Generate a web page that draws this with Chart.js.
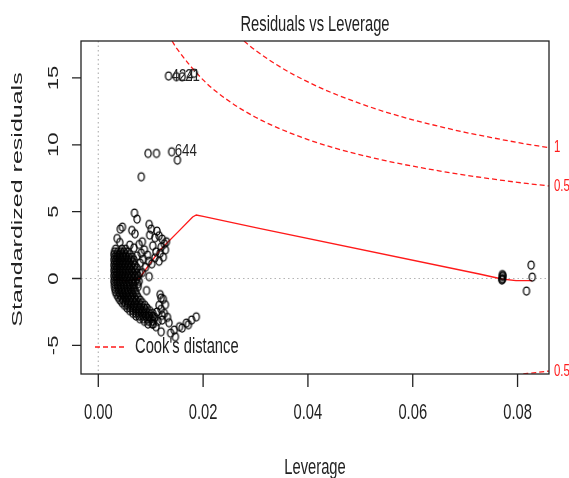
<!DOCTYPE html>
<html>
<head>
<meta charset="utf-8">
<script src="https://cdn.jsdelivr.net/npm/chart.js@4.4.1/dist/chart.umd.min.js"></script>
<style>
  body { margin: 0; background: #fff; }
  #wrap { width: 569px; height: 478px; }
</style>
</head>
<body>
<div id="wrap"><canvas id="levChart" width="569" height="478"></canvas></div>
<script>
// --- Data: leverage vs standardized residuals ---
// dense group near low leverage, one row per residual level: [residual, [leverages]]
const blobRows = [
    [2.2, [0.0033, 0.0045, 0.0052]],
    [2.0, [0.0031, 0.0037, 0.0043, 0.0049, 0.0056]],
    [1.8, [0.0030, 0.0035, 0.0040, 0.0046, 0.0052, 0.0060]],
    [1.6, [0.0031, 0.0036, 0.0042, 0.0047, 0.0053, 0.0058, 0.0065]],
    [1.4, [0.0030, 0.0034, 0.0039, 0.0044, 0.0050, 0.0056, 0.0062, 0.0068]],
    [1.2, [0.0031, 0.0036, 0.0041, 0.0047, 0.0053, 0.0059, 0.0066]],
    [1.0, [0.0030, 0.0034, 0.0039, 0.0045, 0.0051, 0.0057, 0.0063, 0.0070]],
    [0.8, [0.0031, 0.0036, 0.0042, 0.0048, 0.0054, 0.0060, 0.0067, 0.0074]],
    [0.6, [0.0030, 0.0034, 0.0040, 0.0046, 0.0052, 0.0058, 0.0064, 0.0071]],
    [0.4, [0.0031, 0.0036, 0.0041, 0.0047, 0.0053, 0.0059, 0.0066, 0.0073, 0.0079]],
    [0.2, [0.0030, 0.0034, 0.0039, 0.0045, 0.0051, 0.0057, 0.0063, 0.0070, 0.0076]],
    [0.0, [0.0031, 0.0036, 0.0042, 0.0048, 0.0054, 0.0060, 0.0067, 0.0074]],
    [-0.2, [0.0030, 0.0035, 0.0040, 0.0046, 0.0052, 0.0058, 0.0064, 0.0071, 0.0078]],
    [-0.4, [0.0031, 0.0036, 0.0042, 0.0048, 0.0054, 0.0060, 0.0067, 0.0075]],
    [-0.6, [0.0031, 0.0037, 0.0043, 0.0049, 0.0055, 0.0061, 0.0068, 0.0076]],
    [-0.8, [0.0032, 0.0038, 0.0044, 0.0050, 0.0056, 0.0062, 0.0069]],
    [-1.0, [0.0033, 0.0039, 0.0045, 0.0051, 0.0057, 0.0064, 0.0071]],
    [-1.2, [0.0035, 0.0041, 0.0047, 0.0053, 0.0059, 0.0066, 0.0073]],
    [-1.4, [0.0038, 0.0044, 0.0050, 0.0056, 0.0062, 0.0069, 0.0076]],
    [-1.6, [0.0041, 0.0047, 0.0053, 0.0059, 0.0065, 0.0072, 0.0080]],
    [-1.8, [0.0045, 0.0051, 0.0057, 0.0063, 0.0070, 0.0077, 0.0084]],
    [-2.0, [0.0050, 0.0056, 0.0062, 0.0068, 0.0075, 0.0082, 0.0089]],
    [-2.2, [0.0055, 0.0061, 0.0067, 0.0073, 0.0080, 0.0087, 0.0093]],
    [-2.4, [0.0060, 0.0066, 0.0072, 0.0078, 0.0085, 0.0091, 0.0098]],
    [-2.6, [0.0066, 0.0072, 0.0078, 0.0084, 0.0090, 0.0097, 0.0104]],
    [-2.8, [0.0072, 0.0078, 0.0085, 0.0091, 0.0097, 0.0104]],
    [-3.0, [0.0079, 0.0086, 0.0093, 0.0100, 0.0107]],
    [-3.2, [0.0088, 0.0096, 0.0104]],
    [-3.4, [0.0095, 0.0103]]
];

// scattered points around the dense group: [leverage, residual]
const upperPts = [
    [0.0069, 4.9], [0.0074, 4.45], [0.0042, 3.7], [0.0046, 3.85], [0.0064, 3.6], [0.0070, 3.35],
    [0.0097, 4.05], [0.0101, 3.7], [0.0112, 3.55], [0.0098, 3.25], [0.0108, 3.05], [0.0036, 3.0],
    [0.0041, 2.7], [0.0084, 2.75], [0.0116, 3.2], [0.0122, 2.95], [0.0126, 2.6], [0.0120, 2.35],
    [0.0128, 2.15], [0.0118, 1.9], [0.0124, 1.6], [0.0116, 1.3], [0.0060, 2.5], [0.0068, 2.3],
    [0.0078, 2.55], [0.0088, 2.15], [0.0094, 1.75], [0.0086, 1.45], [0.0080, 1.15], [0.0090, 0.85],
    [0.0097, 0.15], [0.0084, 0.45], [0.0102, 1.1], [0.0108, 1.55], [0.0110, 2.0], [0.0104, 2.45],
    [0.0130, 2.75], [0.0096, 1.3], [0.0082, 1.9], [0.0074, 1.7], [0.0092, -0.9]
];
const lowerPts = [
    [0.0118, -1.2], [0.0124, -1.55], [0.0128, -1.95], [0.0120, -2.3], [0.0126, -2.6], [0.0132, -2.9],
    [0.0122, -3.1], [0.0135, -3.3], [0.0116, -2.0], [0.0120, -1.45], [0.0122, -2.75], [0.0114, -3.2],
    [0.0108, -2.9], [0.0112, -2.5], [0.0105, -3.4], [0.0110, -3.6], [0.0120, -3.98], [0.0138, -4.08],
    [0.0147, -4.35], [0.0155, -3.6], [0.0168, -3.33], [0.0178, -3.1], [0.0187, -2.86], [0.0145, -3.85],
    [0.0160, -3.7], [0.0172, -3.45]
];
const outlierPts = [
    [0.0082, 7.61], [0.0095, 9.36], [0.0111, 9.36], [0.0140, 9.48], [0.0151, 8.86],
    [0.0134, 15.15], [0.0149, 15.1], [0.0160, 15.1], [0.0183, 15.35]
];
const highLevPts = [
    [0.0771, 0.30], [0.0771, 0.15], [0.0771, 0.0], [0.0770, -0.1], [0.0772, 0.22], [0.0771, -0.05],
    [0.0826, 1.01], [0.0828, 0.11], [0.0817, -0.93]
];
// labelled observations: [leverage, residual, id]
const idPoints = [[0.0134, 15.15, '424'], [0.0160, 15.1, '21']];
const idPoints2 = [[0.0140, 9.48, '644']];

// smoother through the residuals
const smoothLine = [
    [0.0032, -0.06], [0.0053, -0.19], [0.0078, 0.0], [0.0117, 2.1], [0.0155, 3.6], [0.0180, 4.6],
    [0.0187, 4.75], [0.0200, 4.65], [0.0307, 3.75], [0.0727, 0.34], [0.0770, -0.04], [0.0797, -0.16],
    [0.0828, -0.16]
];

// Cook's distance contours
const cookHalf = [
    [0.01407, 17.76], [0.015, 17.19], [0.020, 14.85], [0.025, 13.25], [0.030, 12.06], [0.035, 11.14],
    [0.040, 10.39], [0.045, 9.77], [0.050, 9.25], [0.055, 8.79], [0.060, 8.40], [0.065, 8.05],
    [0.070, 7.73], [0.075, 7.45], [0.080, 7.19], [0.086, 6.92]
];
const cookOne = [
    [0.0278, 17.76], [0.030, 17.06], [0.035, 15.75], [0.040, 14.70], [0.045, 13.82], [0.050, 13.08],
    [0.055, 12.43], [0.060, 11.87], [0.065, 11.38], [0.070, 10.93], [0.075, 10.54], [0.080, 10.17],
    [0.086, 9.78]
];
const cookHalfLow = [[0.0811, -7.14], [0.0835, -7.03], [0.086, -6.92]];
const cookLabels = ['0.5', '1', '0.5'];

const xTicks = [0, 0.02, 0.04, 0.06, 0.08];
const yTicks = [-5, 0, 5, 10, 15];
const xRange = [-0.0033, 0.086];
const yRange = [-7.14, 17.76];

const SQ = 0.67;            // glyph squeeze across the horizontal
const FONT = '"Liberation Sans", Arial, sans-serif';
const RED = '#ff1a1a';

// --- Helpers ---
const toXY = (p) => ({ x: p[0], y: p[1] });

function allPoints() {
    const pts = [];
    blobRows.forEach(([r, levs]) => levs.forEach(h => pts.push({ x: h, y: r })));
    [upperPts, lowerPts, outlierPts, highLevPts].forEach(list => list.forEach(p => pts.push(toXY(p))));
    return pts;
}

// open circle, slightly taller than wide
function makeRing() {
    const c = document.createElement('canvas');
    c.width = 10; c.height = 12;
    const g = c.getContext('2d');
    g.strokeStyle = '#000';
    g.lineWidth = 1.25;
    g.beginPath();
    g.ellipse(5, 6, 3.1, 4.0, 0, 0, Math.PI * 2);
    g.stroke();
    return c;
}

function drawText(ctx, str, x, y, o) {
    ctx.save();
    ctx.translate(x, y);
    if (o.rot) { ctx.rotate(o.rot); ctx.scale(1, o.sq || SQ); }
    else ctx.scale(o.sq || SQ, 1);
    ctx.font = o.size + 'px ' + FONT;
    ctx.fillStyle = o.color || '#222';
    ctx.textAlign = o.align || 'center';
    ctx.textBaseline = o.base || 'alphabetic';
    ctx.fillText(str, 0, 0);
    ctx.restore();
}

// --- Frame, axes and annotations ---
const framePlugin = {
    id: 'frame',
    beforeDatasetsDraw(chart) {
        const { ctx, chartArea: a, scales: { x, y } } = chart;
        ctx.save();
        ctx.strokeStyle = '#b4b4b4';
        ctx.lineWidth = 1.2;
        ctx.setLineDash([1.5, 3]);
        const y0 = y.getPixelForValue(0), x0 = x.getPixelForValue(0);
        ctx.beginPath();
        ctx.moveTo(a.left, y0); ctx.lineTo(a.right, y0);
        ctx.moveTo(x0, a.top); ctx.lineTo(x0, a.bottom);
        ctx.stroke();
        ctx.restore();
    },
    afterDraw(chart) {
        const { ctx, chartArea: a, scales: { x, y } } = chart;
        ctx.save();
        ctx.strokeStyle = '#222';
        ctx.lineWidth = 1.3;
        ctx.strokeRect(a.left, a.top, a.right - a.left, a.bottom - a.top);

        // x axis
        ctx.beginPath();
        xTicks.forEach(v => {
            const px = x.getPixelForValue(v);
            ctx.moveTo(px, a.bottom); ctx.lineTo(px, a.bottom + 13);
            drawText(ctx, v.toFixed(2), px, a.bottom + 45, { size: 22 });
        });
        // y axis
        yTicks.forEach(v => {
            const py = y.getPixelForValue(v);
            ctx.moveTo(a.left - 9, py); ctx.lineTo(a.left, py);
            drawText(ctx, String(v), a.left - 27, py, { size: 22, rot: -Math.PI / 2, base: 'middle' });
        });
        ctx.stroke();

        const cx = (a.left + a.right) / 2, cy = (a.top + a.bottom) / 2;
        drawText(ctx, 'Residuals vs Leverage', cx, 31, { size: 22 });
        drawText(ctx, 'Leverage', cx, 474, { size: 22 });
        drawText(ctx, 'Standardized residuals', 18, cy - 8, { size: 25, rot: -Math.PI / 2, base: 'middle', sq: 0.6 });

        // ids beside the largest residuals
        idPoints.concat(idPoints2).forEach(([h, r, id]) => {
            drawText(ctx, id, x.getPixelForValue(h) + 3, y.getPixelForValue(r), { size: 17, sq: 0.78, align: 'left', base: 'middle' });
        });

        // contour levels on the right margin
        const ends = [cookHalfLow[cookHalfLow.length - 1], cookOne[cookOne.length - 1], cookHalf[cookHalf.length - 1]];
        ends.forEach((p, i) => {
            drawText(ctx, cookLabels[i], a.right + 5, y.getPixelForValue(p[1]), { size: 17, color: RED, align: 'left', base: 'middle' });
        });

        // legend
        const ly = a.bottom - 27;
        ctx.strokeStyle = RED;
        ctx.lineWidth = 1.3;
        ctx.setLineDash([5, 3]);
        ctx.beginPath();
        ctx.moveTo(a.left + 14, ly); ctx.lineTo(a.left + 46, ly);
        ctx.stroke();
        ctx.setLineDash([]);
        drawText(ctx, "Cook's distance", a.left + 54, ly, { size: 22, align: 'left', base: 'middle' });
        ctx.restore();
    }
};

function cookSet(pts) {
    return {
        type: 'line', data: pts.map(toXY), borderColor: RED, borderWidth: 1.3,
        borderDash: [5, 3], pointRadius: 0, cubicInterpolationMode: 'monotone', fill: false
    };
}

new Chart(document.getElementById('levChart'), {
    type: 'scatter',
    data: {
        datasets: [
            {
                data: allPoints(), pointStyle: makeRing(), pointRadius: 3, showLine: false
            },
            {
                type: 'line', data: smoothLine.map(toXY), borderColor: RED, borderWidth: 1.4,
                pointRadius: 0, tension: 0, fill: false
            },
            cookSet(cookHalf),
            cookSet(cookOne),
            cookSet(cookHalfLow)
        ]
    },
    options: {
        responsive: false,
        animation: false,
        layout: { padding: { left: 81, top: 41, right: 20, bottom: 104 } },
        plugins: { legend: { display: false }, tooltip: { enabled: false } },
        scales: {
            x: { type: 'linear', min: xRange[0], max: xRange[1], display: false },
            y: { type: 'linear', min: yRange[0], max: yRange[1], display: false }
        }
    },
    plugins: [framePlugin]
});
</script>
</body>
</html>
